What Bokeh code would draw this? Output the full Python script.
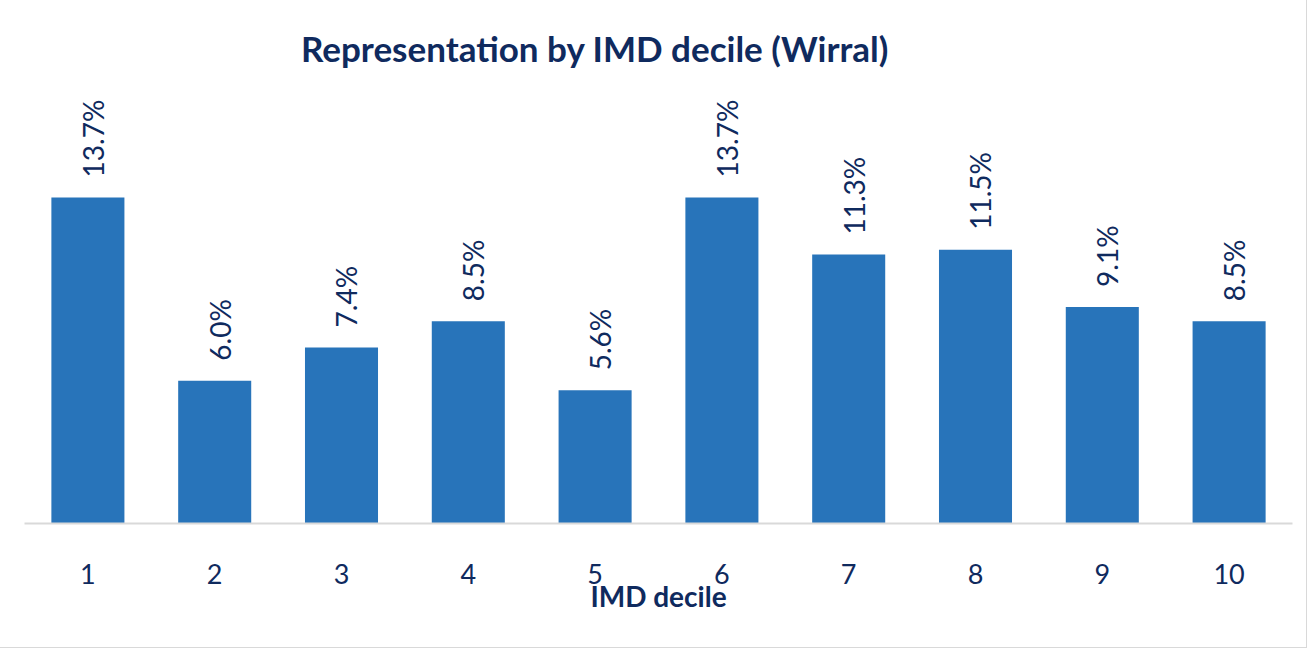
import math
from bokeh.plotting import figure
from bokeh.models import ColumnDataSource, LabelSet, Range1d, FixedTicker
from bokeh.core.properties import value
from bokeh.embed import file_html
from bokeh.resources import INLINE

deciles = [1, 2, 3, 4, 5, 6, 7, 8, 9, 10]
shares = [13.7, 6.0, 7.4, 8.5, 5.6, 13.7, 11.3, 11.5, 9.1, 8.5]
share_labels = [f"{v:.1f}%" for v in shares]
tick_labels = {d: str(d) for d in deciles}
title_text = "Representation by IMD decile (Wirral)"
x_title = "IMD decile"

BAR = "#2874BA"
NAVY = "#0F2A5E"
FONT = "Lato"

W, H = 1306, 647
LEFT, RIGHT, TOP, BOTTOM = 24, 14, 0, 124
frame_h = H - TOP - BOTTOM
px_per_unit = 23.8

p = figure(width=W, height=H, output_backend="svg", toolbar_location=None,
           x_range=Range1d(0.5, 10.5), y_range=Range1d(0, frame_h / px_per_unit),
           y_axis_location=None, min_border_left=LEFT, min_border_right=RIGHT,
           min_border_top=TOP, min_border_bottom=BOTTOM)
p.outline_line_color = None
p.xgrid.visible = False
p.ygrid.visible = False
p.background_fill_color = "white"
p.border_fill_color = "white"

src = ColumnDataSource(dict(x=deciles, top=shares, label=share_labels))
p.vbar(x="x", top="top", bottom=0, width=0.576, source=src, fill_color=BAR, line_color=None)

labels = LabelSet(x="x", y="top", text="label", source=src, angle=90, angle_units="deg",
                  text_align="left", text_baseline="middle", x_offset=5, y_offset=20,
                  text_font=value(FONT), text_font_size="28px", text_color=NAVY)
p.add_layout(labels)

ax = p.xaxis[0]
ax.ticker = FixedTicker(ticks=deciles)
ax.major_label_overrides = tick_labels
ax.axis_line_color = "#D9D9D9"
ax.axis_line_width = 2
ax.major_tick_line_color = None
ax.minor_tick_line_color = None
ax.major_label_standoff = 34
ax.major_label_text_font = FONT
ax.major_label_text_font_size = "27px"
ax.major_label_text_color = NAVY
ax.axis_label = x_title
ax.axis_label_text_font = FONT
ax.axis_label_text_font_style = "bold"
ax.axis_label_text_font_size = "28px"
ax.axis_label_text_color = NAVY
ax.axis_label_standoff = -8

p.text(x=[5.0], y=[476 / px_per_unit], text=[title_text], text_align="center",
       text_baseline="alphabetic", text_font=value(FONT), text_font_style="bold",
       text_font_size="35px", text_color=NAVY)

p.styles = {"outline": "1px solid #D9D9D9"}

open("out.html", "w").write(file_html(p, INLINE))
